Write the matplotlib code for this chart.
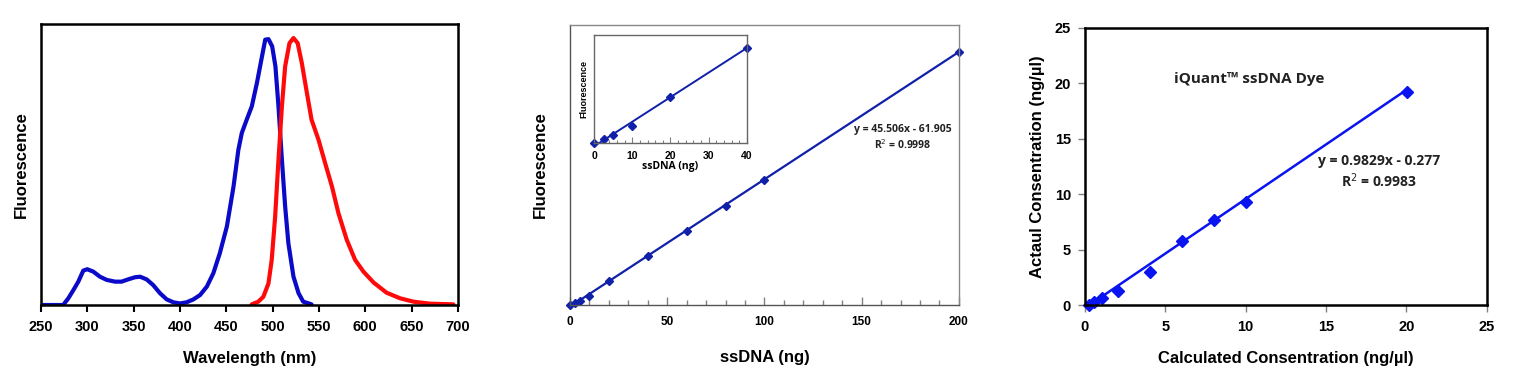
import matplotlib
matplotlib.use("Agg")
import matplotlib.pyplot as plt
from matplotlib.ticker import MultipleLocator, NullLocator

# ---------------- data ----------------
# Panel 1: excitation / emission spectra (normalised fluorescence)
ex_wl = [250, 274, 279.5, 285, 290.3, 295.7, 300, 306.5, 313.7, 321, 330, 337, 344,
         351.5, 357, 364, 371, 378.5, 385.7, 393, 400, 407, 414.5, 421.7, 429, 436,
         443, 450.6, 457.8, 463, 466.7, 472, 477.5, 483, 488.5, 492, 495.5, 499.5,
         503, 506.3, 510, 513.5, 517, 522.5, 528, 533, 542]
ex_fl = [0, 0, 0.025, 0.056, 0.0875, 0.129, 0.134, 0.125, 0.106, 0.094, 0.0875,
         0.0875, 0.096, 0.104, 0.106, 0.096, 0.075, 0.044, 0.021, 0.01, 0.006, 0.01,
         0.021, 0.0375, 0.069, 0.119, 0.194, 0.294, 0.444, 0.581, 0.644, 0.694, 0.744,
         0.831, 0.931, 0.994, 0.996, 0.969, 0.894, 0.744, 0.544, 0.369, 0.231, 0.106,
         0.044, 0.0125, 0.0025]
em_wl = [477.5, 484.5, 490, 495.5, 499, 502.7, 506.3, 510, 513.5, 518.2, 522.5, 527,
         531.5, 537, 542, 549.5, 556.7, 564, 571, 580, 589, 598, 609, 623, 637.7, 652,
         670, 695]
em_fl = [0.0025, 0.0125, 0.031, 0.081, 0.169, 0.331, 0.544, 0.744, 0.894, 0.981, 1.0,
         0.981, 0.906, 0.794, 0.694, 0.619, 0.531, 0.444, 0.344, 0.244, 0.169, 0.125,
         0.084, 0.046, 0.025, 0.0125, 0.005, 0.0025]

# Panel 2: standard curve ssDNA (ng) vs fluorescence
dna_ng = [0, 2.5, 5, 10, 20, 40, 60, 80, 100, 200]
dna_fl = [0, 83, 143, 321, 857, 1750, 2643, 3536, 4452, 9048]
fit2_slope, fit2_icpt = 45.506, -61.905
fit2_label = "y = 45.506x - 61.905\nR$^2$ = 0.9998"

# Panel 3: calculated vs actual concentration
calc_conc = [0.25, 0.56, 1.04, 2.07, 4.07, 6.02, 8.05, 10.04, 20.04]
act_conc = [0.0, 0.3, 0.6, 1.3, 2.94, 5.77, 7.63, 9.31, 19.2]
fit3_slope, fit3_icpt = 0.9829, -0.277
fit3_label = "y = 0.9829x - 0.277\nR$^2$ = 0.9983"

plt.rcParams['font.family'] = ['Liberation Sans', 'DejaVu Sans']

fig = plt.figure(figsize=(15.17, 3.69), dpi=100)

# ---------------- panel 1 ----------------
ax1 = fig.add_axes([0.027, 0.1734, 0.2749, 0.7615])
ax1.plot(ex_wl, ex_fl, color='#0a0ac8', lw=3, solid_capstyle='round', solid_joinstyle='round')
ax1.plot(em_wl, em_fl, color='#ff0a0a', lw=3, solid_capstyle='round', solid_joinstyle='round')
ax1.set_xlim(250, 700)
ax1.set_ylim(0, 1.0525)
ax1.xaxis.set_major_locator(MultipleLocator(50))
ax1.yaxis.set_major_locator(NullLocator())
ax1.tick_params(axis='x', direction='out', length=5, width=1.5, labelsize=10.5, pad=6)
for lab in ax1.get_xticklabels():
    lab.set_fontweight('bold')
for s in ax1.spines.values():
    s.set_linewidth(1.8)
ax1.set_xlabel('Wavelength (nm)', fontsize=12, fontweight='bold', labelpad=12)
ax1.set_ylabel('Fluorescence', fontsize=12, fontweight='bold', labelpad=9)

# ---------------- panel 2 ----------------
c2 = '#1020a8'
ax2 = fig.add_axes([0.3757, 0.1734, 0.2564, 0.7588])
ax2.plot([0, 200], [fit2_slope * 0 + fit2_icpt, fit2_slope * 200 + fit2_icpt],
         color=c2, lw=1.6)
ax2.plot(dna_ng, dna_fl, 'D', color=c2, ms=4.5, clip_on=False)
ax2.set_xlim(0, 200)
ax2.set_ylim(0, 10000)
ax2.xaxis.set_major_locator(MultipleLocator(50))
ax2.xaxis.set_minor_locator(MultipleLocator(10))
ax2.yaxis.set_major_locator(NullLocator())
ax2.tick_params(axis='x', which='major', direction='in', length=6, width=1, color='#808080',
                labelsize=8.5, pad=8)
ax2.tick_params(axis='x', which='minor', direction='in', length=3.5, width=1, color='#808080')
for lab in ax2.get_xticklabels():
    lab.set_fontweight('bold')
for s in ax2.spines.values():
    s.set_color('#888888')
    s.set_linewidth(1)
ax2.spines['left'].set_color('#555555')
ax2.spines['bottom'].set_color('#555555')
ax2.set_xlabel('ssDNA (ng)', fontsize=12, fontweight='bold', labelpad=16)
ax2.set_ylabel('Fluorescence', fontsize=12, fontweight='bold', labelpad=16)
ax2.text(0.856, 0.598, fit2_label, transform=ax2.transAxes, ha='center', va='center',
         fontsize=7.5, fontweight='bold', family=['Open Sans', 'DejaVu Sans'],
         linespacing=1.3, color='#222222')

# inset
ax2i = fig.add_axes([0.3916, 0.6125, 0.1007, 0.2927])
ax2i.plot([0, 40], [fit2_icpt, fit2_slope * 40 + fit2_icpt], color=c2, lw=1.4)
ax2i.plot(dna_ng[:6], dna_fl[:6], 'D', color=c2, ms=4, clip_on=False)
ax2i.set_xlim(0, 40)
ax2i.set_ylim(0, 2000)
ax2i.xaxis.set_major_locator(MultipleLocator(10))
ax2i.xaxis.set_minor_locator(MultipleLocator(2))
ax2i.yaxis.set_major_locator(NullLocator())
ax2i.tick_params(axis='x', which='major', direction='in', length=4, width=0.8, color='#808080',
                 labelsize=7.5, pad=6)
ax2i.tick_params(axis='x', which='minor', direction='in', length=2.5, width=0.8, color='#808080')
for lab in ax2i.get_xticklabels():
    lab.set_fontweight('bold')
for s in ax2i.spines.values():
    s.set_color('#666666')
    s.set_linewidth(1)
ax2i.set_xlabel('ssDNA (ng)', fontsize=7.5, fontweight='bold', labelpad=0,
                family=['Open Sans', 'DejaVu Sans'])
ax2i.set_ylabel('Fluorescence', fontsize=6.5, fontweight='bold', labelpad=4)

# ---------------- panel 3 ----------------
c3 = '#0a14f0'
ax3 = fig.add_axes([0.7152, 0.1734, 0.2648, 0.7518])
ax3.plot([calc_conc[0], calc_conc[-1]],
         [fit3_slope * calc_conc[0] + fit3_icpt, fit3_slope * calc_conc[-1] + fit3_icpt],
         color=c3, lw=1.8)
ax3.plot(calc_conc, act_conc, 'D', color=c3, ms=6.5, clip_on=False)
ax3.set_xlim(0, 25)
ax3.set_ylim(0, 25)
ax3.xaxis.set_major_locator(MultipleLocator(5))
ax3.yaxis.set_major_locator(MultipleLocator(5))
ax3.tick_params(direction='out', length=5, width=1, color='#808080', labelsize=10.5)
ax3.tick_params(axis='x', pad=6)
ax3.tick_params(axis='y', pad=5)
for lab in ax3.get_xticklabels() + ax3.get_yticklabels():
    lab.set_fontweight('bold')
for s in ax3.spines.values():
    s.set_linewidth(1.8)
ax3.set_xlabel('Calculated Consentration (ng/µl)', fontsize=12, fontweight='bold', labelpad=12)
ax3.set_ylabel('Actaul Consentration (ng/µl)', fontsize=12, fontweight='bold', labelpad=7)
ax3.text(0.41, 0.815, 'iQuant™ ssDNA Dye', transform=ax3.transAxes, ha='center', va='center',
         fontsize=11, fontweight='bold', family=['Open Sans', 'DejaVu Sans'], color='#222222')
ax3.text(0.732, 0.48, fit3_label, transform=ax3.transAxes, ha='center', va='center',
         fontsize=10, fontweight='bold', family=['Open Sans', 'DejaVu Sans'],
         linespacing=1.25, color='#222222')

fig.savefig('out.png', dpi=100)
